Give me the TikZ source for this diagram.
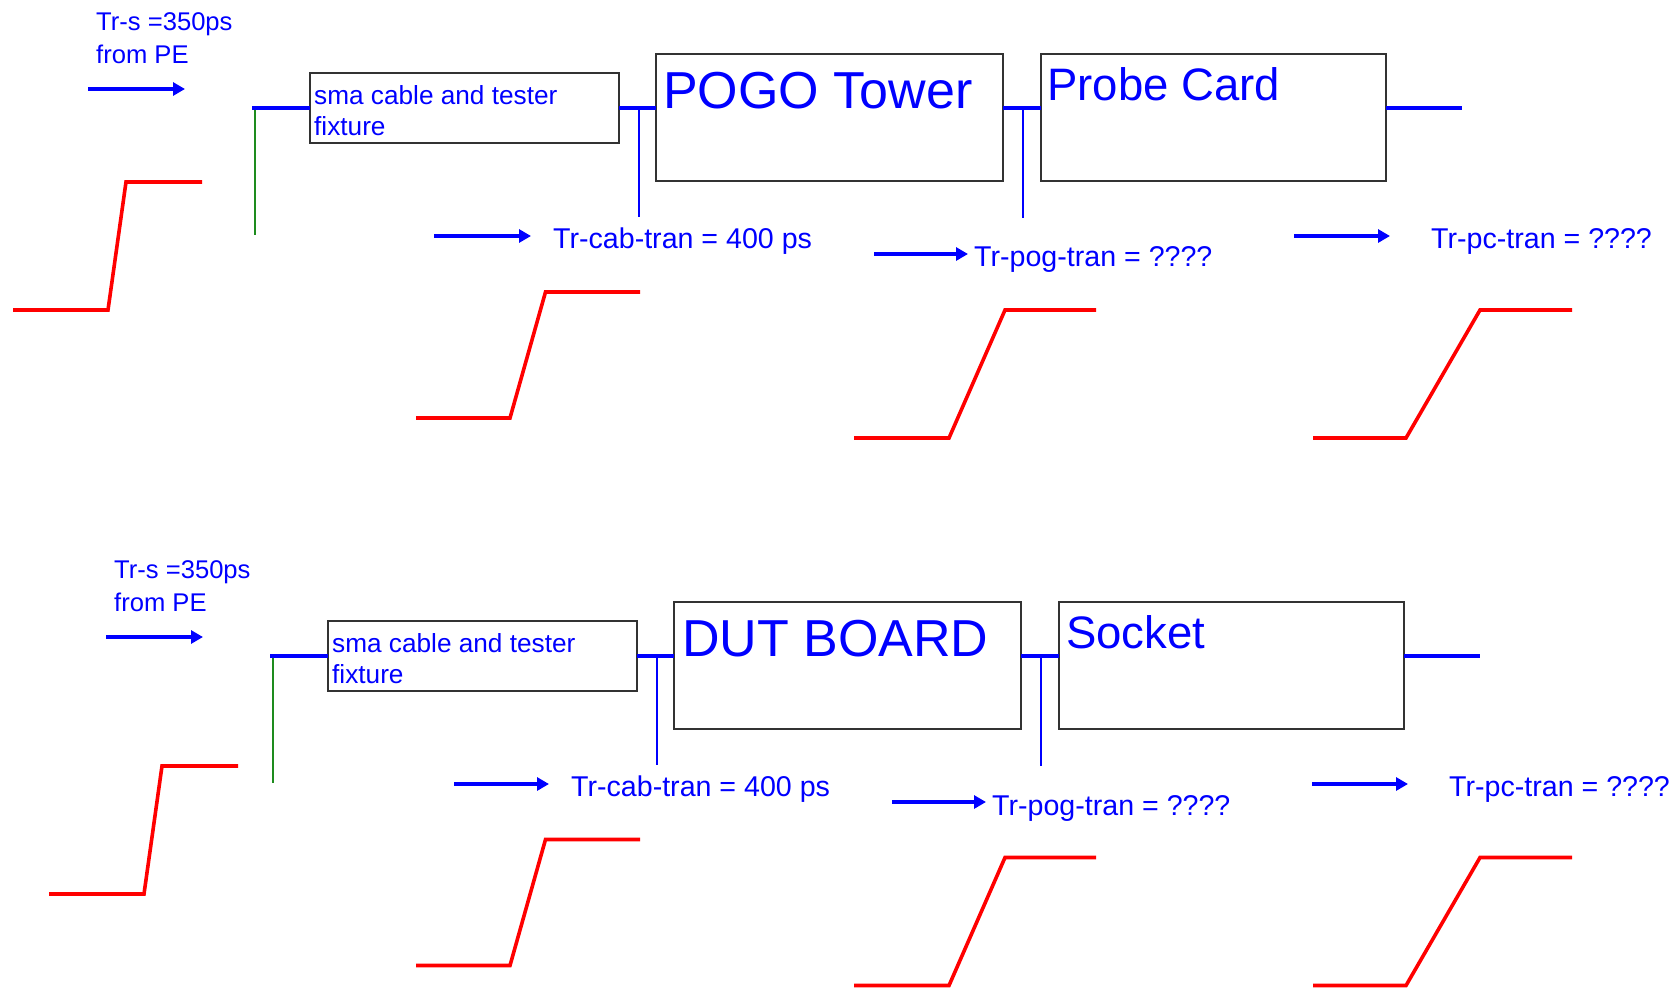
\documentclass[tikz,border=0pt]{standalone}
\usepackage{fontspec}
\setmainfont{Liberation Sans}
\usetikzlibrary{arrows.meta}
\definecolor{bblue}{RGB}{0,0,255}
\definecolor{rred}{RGB}{255,0,0}
\definecolor{ggreen}{RGB}{30,140,30}
\definecolor{bgray}{RGB}{50,50,50}
\tikzset{
  wire/.style={draw=bblue,line width=4pt},
  tap/.style={draw=bblue,line width=1.4pt},
  gnd/.style={draw=ggreen,line width=1.6pt},
  wave/.style={draw=rred,line width=3.6pt,line join=miter},
  flow/.style={draw=bblue,line width=4pt,-{Triangle[length=12pt,width=13pt]}},
  blk/.style={draw=bgray,line width=2.2pt,fill=none,inner sep=0pt,outer sep=0pt,anchor=north west},
  lbl/.style={text=bblue,inner sep=0pt,anchor=base west,font=\fontsize{28.6}{34}\selectfont},
  small/.style={text=bblue,inner sep=0pt,anchor=base west,font=\fontsize{25.6}{31}\selectfont},
  smab/.style={text=bblue,inner sep=0pt,anchor=base west,font=\fontsize{26.2}{31}\selectfont},
  big/.style={text=bblue,inner sep=0pt,anchor=base west,font=\fontsize{52}{60}\selectfont},
  mid/.style={text=bblue,inner sep=0pt,anchor=base west,font=\fontsize{45.5}{54}\selectfont}
}
\begin{document}
\begin{tikzpicture}[x=1pt,y=-1pt]
\useasboundingbox (0,0) rectangle (1675,988);
% ---------------- TOP ----------------
\node[small] (ts1) at (96,30) {Tr-s =350ps};
\node[small] (tf1) at (96,63) {from PE};
\coordinate (a1s) at (88,89); \coordinate (a1e) at (185,89);
\draw[flow] (a1s) -- (a1e);
\coordinate (w1a) at (13,310); \coordinate (w1b) at (108,310);
\coordinate (w1c) at (126,182); \coordinate (w1d) at (202,182);
\draw[wave] (w1a) -- (w1b) -- (w1c) -- (w1d);
\node[blk,minimum width=309pt,minimum height=70.6pt] (sma1) at (310,72.7) {};
\node[smab] (smat1) at (314,104) {sma cable and tester};
\node[smab] (smaf1) at (314,135) {fixture};
\coordinate (in1) at (252,108);
\coordinate (g1t) at (255,108); \coordinate (g1b) at (255,235);
\draw[gnd] (g1t) -- (g1b);
\draw[wire] (in1) -- (sma1.west);
\node[blk,minimum width=347pt,minimum height=127pt] (pogo) at (656,54) {};
\node[big] (pogot) at (663,108) {POGO Tower};
\node[blk,minimum width=345pt,minimum height=127pt] (probe) at (1041,54) {};
\node[mid] (probet) at (1047,100) {Probe Card};
\draw[wire] (sma1.east) -- (sma1.east -| pogo.west);
\draw[wire] (sma1.east -| pogo.east) -- (sma1.east -| probe.west);
\coordinate (out1) at (1462,108);
\draw[wire] (sma1.east -| probe.east) -- (out1);
\coordinate (t1a) at (639,108); \coordinate (t1b) at (639,217);
\draw[tap] (t1a) -- (t1b);
\coordinate (t2a) at (1023,108); \coordinate (t2b) at (1023,218);
\draw[tap] (t2a) -- (t2b);
\coordinate (a2s) at (434,236); \coordinate (a2e) at (531,236);
\draw[flow] (a2s) -- (a2e);
\node[lbl] (cab1) at (553,248) {Tr-cab-tran = 400 ps};
\coordinate (w2a) at (416,418); \coordinate (w2b) at (510,418);
\coordinate (w2c) at (545.5,292); \coordinate (w2d) at (640,292);
\draw[wave] (w2a) -- (w2b) -- (w2c) -- (w2d);
\coordinate (a3s) at (874,254); \coordinate (a3e) at (968,254);
\draw[flow] (a3s) -- (a3e);
\node[lbl] (pog1) at (974,266.5) {Tr-pog-tran = ????};
\coordinate (w3a) at (854,438); \coordinate (w3b) at (949,438);
\coordinate (w3c) at (1005,310); \coordinate (w3d) at (1096,310);
\draw[wave] (w3a) -- (w3b) -- (w3c) -- (w3d);
\coordinate (a4s) at (1294,236); \coordinate (a4e) at (1390,236);
\draw[flow] (a4s) -- (a4e);
\node[lbl] (pc1) at (1431,248) {Tr-pc-tran = ????};
\coordinate (w4a) at (1313,438); \coordinate (w4b) at (1406,438);
\coordinate (w4c) at (1480,310); \coordinate (w4d) at (1572,310);
\draw[wave] (w4a) -- (w4b) -- (w4c) -- (w4d);
% ---------------- BOTTOM ----------------
\begin{scope}[shift={(36,584)}]
\coordinate (v1a) at (13,310); \coordinate (v1b) at (108,310);
\coordinate (v1c) at (126,182); \coordinate (v1d) at (202,182);
\draw[wave] (v1a) -- (v1b) -- (v1c) -- (v1d);
\end{scope}
\begin{scope}[shift={(0,547.5)}]
\coordinate (v2a) at (416,418); \coordinate (v2b) at (510,418);
\coordinate (v2c) at (545.5,292); \coordinate (v2d) at (640,292);
\draw[wave] (v2a) -- (v2b) -- (v2c) -- (v2d);
\coordinate (v3a) at (854,438); \coordinate (v3b) at (949,438);
\coordinate (v3c) at (1005,310); \coordinate (v3d) at (1096,310);
\draw[wave] (v3a) -- (v3b) -- (v3c) -- (v3d);
\coordinate (v4a) at (1313,438); \coordinate (v4b) at (1406,438);
\coordinate (v4c) at (1480,310); \coordinate (v4d) at (1572,310);
\draw[wave] (v4a) -- (v4b) -- (v4c) -- (v4d);
\end{scope}
\begin{scope}[shift={(18,548)}]
\node[small] (ts2) at (96,30) {Tr-s =350ps};
\node[small] (tf2) at (96,63) {from PE};
\coordinate (b1s) at (88,89); \coordinate (b1e) at (185,89);
\draw[flow] (b1s) -- (b1e);
\node[blk,minimum width=309pt,minimum height=70.6pt] (sma2) at (310,72.7) {};
\node[smab] (smat2) at (314,104) {sma cable and tester};
\node[smab] (smaf2) at (314,135) {fixture};
\coordinate (in2) at (252,108);
\coordinate (g2t) at (255,108); \coordinate (g2b) at (255,235);
\draw[gnd] (g2t) -- (g2b);
\draw[wire] (in2) -- (sma2.west);
\node[blk,minimum width=347pt,minimum height=127pt] (dut) at (656,54) {};
\node[big] (dutt) at (664,108.5) {DUT BOARD};
\node[blk,minimum width=345pt,minimum height=127pt] (sock) at (1041,54) {};
\node[mid] (sockt) at (1048,100) {Socket};
\draw[wire] (sma2.east) -- (sma2.east -| dut.west);
\draw[wire] (sma2.east -| dut.east) -- (sma2.east -| sock.west);
\coordinate (out2) at (1462,108);
\draw[wire] (sma2.east -| sock.east) -- (out2);
\coordinate (s1a) at (639,108); \coordinate (s1b) at (639,217);
\draw[tap] (s1a) -- (s1b);
\coordinate (s2a) at (1023,108); \coordinate (s2b) at (1023,218);
\draw[tap] (s2a) -- (s2b);
\coordinate (b2s) at (436,236); \coordinate (b2e) at (531,236);
\draw[flow] (b2s) -- (b2e);
\node[lbl] (cab2) at (553,248.5) {Tr-cab-tran = 400 ps};
\coordinate (b3s) at (874,254); \coordinate (b3e) at (968,254);
\draw[flow] (b3s) -- (b3e);
\node[lbl] (pog2) at (974,267) {Tr-pog-tran = ????};
\coordinate (b4s) at (1294,236); \coordinate (b4e) at (1390,236);
\draw[flow] (b4s) -- (b4e);
\node[lbl] (pc2) at (1431,248.5) {Tr-pc-tran = ????};
\end{scope}
\end{tikzpicture}
\end{document}
